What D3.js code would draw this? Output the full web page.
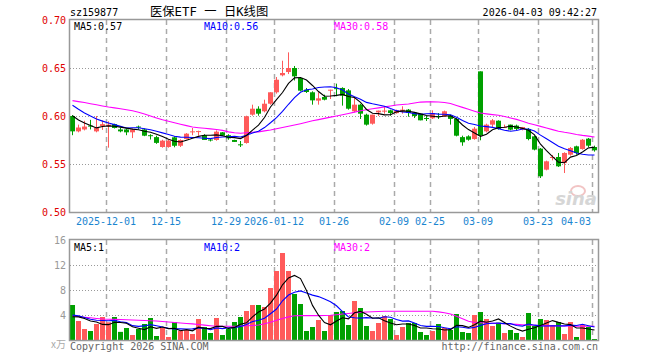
<!DOCTYPE html>
<html lang="zh-CN">
<head>
<meta charset="UTF-8">
<title>医保ETF 日K线图</title>
<style>
    body { margin: 0; background: #fff; }
    svg text { font-family: "DejaVu Sans Mono", "Liberation Mono", monospace; }
</style>
</head>
<body>
<div id="chart"></div>
<script src="https://cdn.jsdelivr.net/npm/d3@7/dist/d3.min.js"></script>
<script>
// trading days shown on the chart
var dates = [
    "2025-11-21","2025-11-24","2025-11-25","2025-11-26","2025-11-27","2025-11-28",
    "2025-12-01","2025-12-02","2025-12-03","2025-12-04","2025-12-05",
    "2025-12-08","2025-12-09","2025-12-10","2025-12-11","2025-12-12",
    "2025-12-15","2025-12-16","2025-12-17","2025-12-18","2025-12-19",
    "2025-12-22","2025-12-23","2025-12-24","2025-12-25","2025-12-26",
    "2025-12-29","2025-12-30","2025-12-31",
    "2026-01-05","2026-01-06","2026-01-07","2026-01-08","2026-01-09",
    "2026-01-12","2026-01-13","2026-01-14","2026-01-15","2026-01-16",
    "2026-01-19","2026-01-20","2026-01-21","2026-01-22","2026-01-23",
    "2026-01-26","2026-01-27","2026-01-28","2026-01-29","2026-01-30",
    "2026-02-02","2026-02-03","2026-02-04","2026-02-05","2026-02-06",
    "2026-02-09","2026-02-10","2026-02-11","2026-02-12","2026-02-13",
    "2026-02-24","2026-02-25","2026-02-26","2026-02-27",
    "2026-03-02","2026-03-03","2026-03-04","2026-03-05","2026-03-06",
    "2026-03-09","2026-03-10","2026-03-11","2026-03-12","2026-03-13",
    "2026-03-16","2026-03-17","2026-03-18","2026-03-19","2026-03-20",
    "2026-03-23","2026-03-24","2026-03-25","2026-03-26","2026-03-27",
    "2026-03-30","2026-03-31","2026-04-01","2026-04-02","2026-04-03"
];

var open = [0.600,0.584,0.586,0.590,0.584,0.5895,0.5895,0.5915,0.586,0.586,
    0.583,0.589,0.586,0.580,0.578,0.5677,0.5677,0.5778,0.569,0.576,
    0.583,0.584,0.580,0.5755,0.575,0.583,0.580,0.575,0.5705,0.5719,
    0.6014,0.6076,0.6049,0.6128,0.6247,0.6424,0.6458,0.650,0.6396,0.6274,
    0.6247,0.616,0.6198,0.627,0.629,0.6292,0.6267,0.6049,0.6118,0.6014,
    0.592,0.6038,0.6052,0.6059,0.603,0.6052,0.6066,0.6035,0.6024,0.5979,
    0.5976,0.600,0.5997,0.6003,0.5969,0.578,0.5788,0.576,0.6465,0.584,
    0.591,0.5951,0.5882,0.591,0.590,0.5858,0.5865,0.5788,0.566,0.5441,
    0.557,0.5573,0.551,0.5597,0.5684,0.5656,0.5764,0.5677];
var close = [0.584,0.588,0.589,0.589,0.588,0.5915,0.591,0.5875,0.584,0.583,
    0.586,0.588,0.5795,0.579,0.572,0.5743,0.5743,0.569,0.575,0.5816,
    0.584,0.5843,0.575,0.5745,0.5837,0.5795,0.5767,0.573,0.5695,0.5997,
    0.6076,0.6024,0.6128,0.6247,0.6378,0.6448,0.650,0.6413,0.6264,0.625,
    0.6163,0.6184,0.617,0.6274,0.6285,0.6212,0.6076,0.6118,0.6024,0.591,
    0.6014,0.6056,0.6056,0.6031,0.606,0.6066,0.6031,0.600,0.5955,0.597,
    0.6031,0.5993,0.6049,0.597,0.5795,0.5726,0.5753,0.5868,0.5798,0.591,
    0.5955,0.5864,0.5885,0.5858,0.5865,0.5885,0.576,0.565,0.5372,0.5528,
    0.5573,0.5476,0.5615,0.5667,0.5615,0.5753,0.5691,0.5643];
var high = [0.601,0.591,0.595,0.596,0.600,0.5955,0.5945,0.592,0.588,0.587,
    0.587,0.590,0.587,0.581,0.5795,0.5753,0.5753,0.5788,0.5757,0.5822,
    0.5875,0.5847,0.581,0.5765,0.585,0.5833,0.581,0.5753,0.574,0.6003,
    0.6118,0.6101,0.617,0.6247,0.6406,0.6576,0.6663,0.6521,0.6406,0.6292,
    0.6257,0.6247,0.6222,0.6274,0.6337,0.6299,0.6281,0.6187,0.6128,0.6024,
    0.6014,0.6056,0.6101,0.6066,0.6066,0.6101,0.6073,0.6038,0.6024,0.600,
    0.6059,0.6031,0.6056,0.6014,0.5979,0.5795,0.5799,0.5886,0.6465,0.592,
    0.5969,0.5955,0.591,0.591,0.591,0.5886,0.5875,0.5795,0.5667,0.5535,
    0.5594,0.5615,0.5622,0.5677,0.5691,0.576,0.5771,0.5691];
var low = [0.580,0.583,0.585,0.586,0.583,0.5855,0.567,0.587,0.583,0.580,
    0.577,0.586,0.579,0.5755,0.571,0.567,0.567,0.5674,0.5677,0.5757,
    0.580,0.5795,0.575,0.5735,0.5743,0.5795,0.5753,0.573,0.5677,0.5712,
    0.6003,0.6003,0.6038,0.6118,0.6233,0.6413,0.6437,0.637,0.6257,0.624,
    0.6118,0.6118,0.6163,0.6177,0.6205,0.6108,0.6066,0.6038,0.5969,0.590,
    0.591,0.600,0.6024,0.6003,0.6024,0.6024,0.5993,0.5979,0.5955,0.5948,
    0.5969,0.5969,0.599,0.591,0.5788,0.569,0.5743,0.5753,0.5747,0.583,
    0.5875,0.5858,0.5875,0.5851,0.5851,0.585,0.5747,0.5642,0.5354,0.5434,
    0.5538,0.5469,0.5406,0.5587,0.5597,0.5649,0.5677,0.5629];
// volume, 万手
var volume = [5.6,3.04,1.76,1.44,2.56,3.68,2.83,3.68,1.3,1.92,
    0.8,1.76,2.56,3.52,0.64,1.92,0.48,2.88,1.44,1.6,
    0.96,3.36,2.08,1.12,3.52,0.8,1.76,2.88,3.68,4.64,
    5.6,5.6,5.28,8.32,11.04,13.92,11.04,7.36,5.76,1.44,
    2.08,3.2,1.44,4.0,4.48,4.64,2.4,6.24,5.12,2.24,
    1.44,2.72,3.84,3.36,0.8,2.08,2.72,2.72,1.28,0.8,
    1.44,2.56,1.92,1.6,4.16,1.28,1.12,4.0,4.48,3.36,
    2.24,2.77,1.12,1.6,1.12,0.48,4.32,2.24,3.36,3.2,
    2.4,2.88,0.96,2.88,0.48,2.4,2.08,0.16];

// closes / volumes before the first visible day, estimated from where the MA lines start
var preClose = [0.630,0.627,0.622,0.618,0.614,0.610,0.605,0.602,0.600];
var preVolume = [4.5,4.2,4.3,4.15,4.2,3.2,3.0,3.5,3.35];

// MA30 lines
var ma30 = [0.6160,0.6150,0.6140,0.6128,0.6117,0.6105,0.6094,0.6085,0.6075,0.6065,
    0.6055,0.6040,0.6020,0.6000,0.5980,0.5960,0.5945,0.5930,0.5915,0.5900,
    0.5885,0.5878,0.5872,0.5866,0.5860,0.5850,0.5835,0.5825,0.5820,0.5825,
    0.5830,0.5835,0.5845,0.5855,0.5868,0.5880,0.5893,0.5906,0.5920,0.5935,
    0.5950,0.5962,0.5975,0.5988,0.6000,0.6013,0.6026,0.6040,0.6055,0.6065,
    0.6075,0.6085,0.6095,0.6105,0.6115,0.6120,0.6125,0.6135,0.6145,0.6147,
    0.6147,0.6146,0.6140,0.6130,0.6110,0.6090,0.6070,0.6050,0.6031,0.6022,
    0.6014,0.6007,0.5995,0.5980,0.5965,0.5945,0.5925,0.5908,0.5892,0.5875,
    0.5858,0.5842,0.5830,0.5820,0.5808,0.5798,0.5790,0.5782];
var volMa30 = [3.84,3.75,3.65,3.55,3.45,3.36,3.33,3.30,3.27,3.24,
    3.21,3.17,3.13,3.08,3.04,2.96,2.88,2.80,2.72,2.65,
    2.58,2.48,2.38,2.28,2.20,2.20,2.20,2.20,2.22,2.27,
    2.33,2.40,2.60,2.85,3.15,3.45,3.70,3.88,3.92,3.90,
    3.90,3.90,3.92,3.96,4.05,4.15,4.25,4.35,4.42,4.48,
    4.52,4.56,4.60,4.60,4.60,4.60,4.60,4.60,4.60,4.60,
    4.60,4.50,4.35,4.15,3.80,3.40,3.00,2.80,2.75,2.70,
    2.68,2.65,2.60,2.55,2.50,2.45,2.40,2.35,2.30,2.30,
    2.28,2.25,2.24,2.23,2.22,2.21,2.20,2.20];

var priceTicks = [0.50, 0.55, 0.60, 0.65, 0.70];
var volumeTicks = [4, 8, 12, 16];
var tickDates = ["2025-12-01","2025-12-15","2025-12-29","2026-01-12","2026-01-26",
    "2026-02-09","2026-02-25","2026-03-09","2026-03-23","2026-04-03"];
var tickLabels = ["2025-12-01","12-15","12-29","2026-01-12","01-26",
    "02-09","02-25","03-09","03-23","04-03"];

var RED = "#ff5a5a", GREEN = "#00a000", GRID = "#aaaaaa";

function movingAvg(values, pre, n) {
    var all = pre.concat(values);
    return values.map(function(v, i) {
        var k = i + pre.length, s = 0;
        for (var j = k - n + 1; j <= k; j++) s += all[j];
        return s / n;
    });
}
var ma5 = movingAvg(close, preClose, 5);
var ma10 = movingAvg(close, preClose, 10);
var volMa5 = movingAvg(volume, preVolume, 5);
var volMa10 = movingAvg(volume, preVolume, 10);

var svg = d3.select("#chart").append("svg")
    .attr("width", 660)
    .attr("height", 360);

var left = 70, right = 598;
var x = d3.scaleBand().domain(dates).range([left, right]);
var yPrice = d3.scaleLinear().domain([0.50, 0.70]).range([212, 20]);
var yVol = d3.scaleLinear().domain([0, 16]).range([340, 240]);
var cx = function(i) { return x(dates[i]) + 2.5; };
var FS = 10;

// header
svg.append("text").attr("x", 70).attr("y", 16).attr("font-size", FS)
    .attr("fill", "#000").text("sz159877");
svg.append("text").attr("x", 150).attr("y", 16).attr("font-size", 12.3)
    .style("font-family", "'DejaVu Sans Mono', 'Noto Sans CJK SC', monospace")
    .attr("fill", "#000").text("医保ETF 一 日K线图");
svg.append("text").attr("x", 597).attr("y", 16).attr("font-size", FS)
    .attr("text-anchor", "end").attr("fill", "#000").text("2026-04-03 09:42:27");

// grids
function drawPanel(y0, y1, hTicks, yScale) {
    var g = svg.append("g");
    g.selectAll(".hgrid").data(hTicks).enter().append("line")
        .attr("x1", left).attr("x2", right)
        .attr("y1", function(d) { return Math.round(yScale(d)) + 0.5; })
        .attr("y2", function(d) { return Math.round(yScale(d)) + 0.5; })
        .attr("stroke", "#999").attr("stroke-dasharray", "1,2");
    g.selectAll(".vgrid").data(tickDates).enter().append("line")
        .attr("x1", function(d) { return x(d) + 0.5; })
        .attr("x2", function(d) { return x(d) + 0.5; })
        .attr("y1", y0).attr("y2", y1)
        .attr("stroke", GRID).attr("stroke-width", 1.5)
        .attr("stroke-dasharray", "5,4");
    return g;
}
drawPanel(20, 212, [0.55, 0.60, 0.65], yPrice);
drawPanel(240, 340, [4, 8, 12], yVol);

// price labels
svg.selectAll(".plabel").data(priceTicks).enter().append("text")
    .attr("x", 66).attr("y", function(d) { return yPrice(d) + 4; })
    .attr("text-anchor", "end").attr("font-size", FS).attr("fill", "#e00000")
    .text(function(d) { return d.toFixed(2); });

// volume labels
svg.selectAll(".vlabel").data(volumeTicks).enter().append("text")
    .attr("x", 66).attr("y", function(d) { return yVol(d) + 4; })
    .attr("text-anchor", "end").attr("font-size", FS).attr("fill", "#999")
    .text(function(d) { return d; });
svg.append("text").attr("x", 66).attr("y", 348).attr("text-anchor", "end")
    .attr("font-size", 10).attr("fill", "#aaa")
    .style("font-family", "'Noto Sans CJK SC', sans-serif").text("x万");

// date labels
svg.selectAll(".dlabel").data(tickDates).enter().append("text")
    .attr("x", function(d, i) { return i === tickDates.length - 1 ? 591 : x(d); })
    .attr("y", 225)
    .attr("text-anchor", function(d, i) { return i === tickDates.length - 1 ? "end" : "middle"; })
    .attr("font-size", FS).attr("fill", "#1a85d0")
    .text(function(d, i) { return tickLabels[i]; });

// sina watermark
svg.append("ellipse").attr("cx", 578).attr("cy", 191).attr("rx", 7).attr("ry", 5)
    .attr("fill", "none").attr("stroke", "#f2c4c4").attr("stroke-width", 2);
svg.append("text").attr("x", 597).attr("y", 205).attr("text-anchor", "end")
    .attr("font-size", 18).attr("font-weight", "bold").attr("font-style", "italic")
    .style("font-family", "'DejaVu Sans', sans-serif")
    .attr("fill", "#d6d6d6").text("sina");

// candles
var up = function(i) { return close[i] >= open[i]; };
var candles = svg.append("g").selectAll("g").data(dates).enter().append("g");
candles.append("line")
    .attr("x1", function(d, i) { return cx(i); }).attr("x2", function(d, i) { return cx(i); })
    .attr("y1", function(d, i) { return yPrice(high[i]); })
    .attr("y2", function(d, i) { return yPrice(low[i]); })
    .attr("stroke", function(d, i) { return up(i) ? RED : GREEN; });
candles.append("rect")
    .attr("x", function(d) { return x(d); })
    .attr("width", 5)
    .attr("y", function(d, i) { return yPrice(Math.max(open[i], close[i])); })
    .attr("height", function(d, i) { return Math.max(1, Math.abs(yPrice(open[i]) - yPrice(close[i]))); })
    .attr("fill", function(d, i) { return up(i) ? RED : GREEN; });

// volume bars
svg.append("g").selectAll("rect").data(volume).enter().append("rect")
    .attr("x", function(d, i) { return x(dates[i]); })
    .attr("width", 5)
    .attr("y", function(d) { return yVol(d); })
    .attr("height", function(d) { return 340 - yVol(d); })
    .attr("fill", function(d, i) { return up(i) ? RED : GREEN; });

// moving average lines
function drawLine(values, yScale, color) {
    svg.append("path").datum(values)
        .attr("fill", "none").attr("stroke", color).attr("stroke-width", 1.1)
        .attr("d", d3.line().x(function(d, i) { return cx(i); }).y(function(d) { return yScale(d); }));
}
drawLine(ma30, yPrice, "#ff00ff");
drawLine(ma10, yPrice, "#0000ff");
drawLine(ma5, yPrice, "#000000");
drawLine(volMa30, yVol, "#ff00ff");
drawLine(volMa10, yVol, "#0000ff");
drawLine(volMa5, yVol, "#000000");

// frames
[[20, 212], [240, 340]].forEach(function(p) {
    svg.append("rect").attr("x", left - 0.5).attr("y", p[0] - 0.5)
        .attr("width", right - left + 1).attr("height", p[1] - p[0] + 1)
        .attr("fill", "none").attr("stroke", "#999").attr("stroke-width", 1.5);
});

// legends
var last = dates.length - 1;
function legend(yPos, items) {
    items.forEach(function(it, k) {
        svg.append("text").attr("x", 74 + k * 130).attr("y", yPos)
            .attr("font-size", FS).attr("fill", it[1]).text(it[0]);
    });
}
legend(30, [["MA5:" + ma5[last].toFixed(2), "#000"],
            ["MA10:" + ma10[last].toFixed(2), "#0000ff"],
            ["MA30:" + ma30[last].toFixed(2), "#ff00ff"]]);
legend(251, [["MA5:" + Math.floor(volMa5[last]), "#000"],
             ["MA10:" + Math.floor(volMa10[last]), "#0000ff"],
             ["MA30:" + Math.floor(volMa30[last]), "#ff00ff"]]);

// footer
svg.append("text").attr("x", 70).attr("y", 350).attr("font-size", FS)
    .attr("fill", "#666").text("Copyright 2026 SINA.COM");
svg.append("text").attr("x", 598).attr("y", 350).attr("text-anchor", "end")
    .attr("font-size", FS).attr("fill", "#666").text("http://finance.sina.com.cn");
</script>
</body>
</html>
